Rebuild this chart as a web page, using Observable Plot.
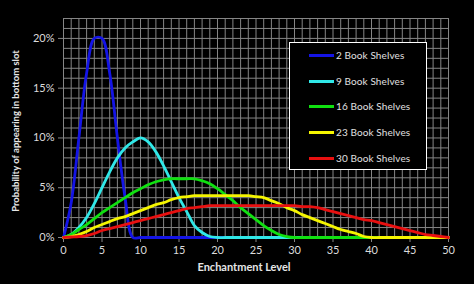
<!DOCTYPE html>
<html><head><meta charset="utf-8">
<script src="https://cdn.jsdelivr.net/npm/d3@7"></script>
<script src="https://cdn.jsdelivr.net/npm/@observablehq/plot@0.6"></script>
<style>
html,body{margin:0;padding:0;background:#000;}
#wrap{position:relative;width:474px;height:284px;overflow:hidden;font-family:Lato,"Open Sans",sans-serif;}
#legend{position:absolute;left:289px;top:42px;width:136px;height:126px;border:1.5px solid #fff;background:#000;}
.swatch{position:absolute;left:19px;width:25px;height:3px;}
.lab{position:absolute;left:46px;white-space:nowrap;color:#e0e0e0;font-size:10px;line-height:14px;letter-spacing:0.1px;}
</style></head><body><div id="wrap"></div>
<script>
const levels = [0,1,2,3,4,5,6,7,8,9,10,11,12,13,14,15,16,17,18,19,20,21,22,23,24,25,26,27,28,29,30,31,32,33,34,35,36,37,38,39,40,41,42,43,44,45,46,47,48,49,50];
const seriesNames = ["2 Book Shelves","9 Book Shelves","16 Book Shelves","23 Book Shelves","30 Book Shelves"];
const seriesColors = ["#1414e6","#30e8e8","#10e010","#f5f500","#e81010"];
const shelves2  = [0,3.5,10,16.5,20,20,16.5,10,4,0, 0,0,0,0,0,0,0,0,0,0, 0,0,0,0,0,0,0,0,0,0, 0,0,0,0,0,0,0,0,0,0, 0,0,0,0,0,0,0,0,0,0, 0];
const shelves9  = [0,0.3,1.0,2.0,3.4,5.0,6.6,8.0,9.0,9.6, 10.0,9.6,8.6,7.2,5.6,4.0,2.6,1.2,0.5,0.1, 0,0,0,0,0,0,0,0,0,0, 0,0,0,0,0,0,0,0,0,0, 0,0,0,0,0,0,0,0,0,0, 0];
const shelves16 = [0,0.3,0.8,1.3,1.9,2.5,3.0,3.5,4.0,4.5, 4.9,5.3,5.6,5.8,5.9,5.9,5.9,5.9,5.7,5.4, 4.9,4.3,3.7,3.0,2.4,1.8,1.2,0.7,0.3,0.1, 0,0,0,0,0,0,0,0,0,0, 0,0,0,0,0,0,0,0,0,0, 0];
const shelves23 = [0,0.1,0.3,0.6,1.0,1.3,1.6,1.9,2.1,2.4, 2.7,3.0,3.3,3.5,3.8,4.0,4.1,4.2,4.2,4.2, 4.2,4.2,4.2,4.2,4.2,4.1,4.0,3.7,3.4,3.0, 2.7,2.3,2.0,1.7,1.4,1.1,0.8,0.6,0.4,0.1, 0,0,0,0,0,0,0,0,0,0, 0];
const shelves30 = [0,0.05,0.1,0.2,0.4,0.7,0.9,1.1,1.3,1.5, 1.7,1.9,2.1,2.3,2.5,2.7,2.9,3.0,3.1,3.2, 3.2,3.2,3.2,3.2,3.2,3.2,3.2,3.2,3.2,3.2, 3.2,3.1,3.1,3.0,2.8,2.6,2.4,2.2,2.0,1.8, 1.7,1.5,1.3,1.1,0.9,0.7,0.5,0.3,0.2,0.1, 0];
const xTicks = [0,5,10,15,20,25,30,35,40,45,50];
const yTicks = [0,5,10,15,20];
const xGrid = levels;
const yGrid = [0,1,2,3,4,5,6,7,8,9,10,11,12,13,14,15,16,17,18,19,20,21,22];

const allValues = [shelves2, shelves9, shelves16, shelves23, shelves30];
const rows = [];
allValues.forEach((vals, s) => vals.forEach((v, i) => rows.push({level: levels[i], pct: v, series: seriesNames[s]})));

const chart = Plot.plot({
  width: 474, height: 284,
  marginLeft: 63, marginRight: 26, marginTop: 18, marginBottom: 47,
  style: {background: "#000", color: "#dcdcdc", fontFamily: "Lato, 'Open Sans', sans-serif", fontSize: "11px", overflow: "visible"},
  x: {domain: [0, 50]},
  y: {domain: [0, 22]},
  color: {domain: seriesNames, range: seriesColors},
  marks: [
    Plot.gridX(xGrid, {stroke: "#858585", strokeOpacity: 1, strokeWidth: 1}),
    Plot.gridY(yGrid, {stroke: "#858585", strokeOpacity: 1, strokeWidth: 1}),
    Plot.axisX(xTicks, {tickSize: 5, tickPadding: 4, stroke: "#858585", fill: "#dcdcdc", label: null}),
    Plot.axisY(yTicks, {tickSize: 5, tickPadding: 4, stroke: "#858585", fill: "#dcdcdc", tickFormat: d => d + "%", label: null}),
    Plot.line(rows, {x: "level", y: "pct", z: "series", stroke: "series", strokeWidth: 2.8, curve: "catmull-rom"}),
    Plot.text(["Enchantment Level"], {frameAnchor: "bottom", dy: 33, dx: -12, fontWeight: "bold", fill: "#e6e6e6", fontSize: 11}),
    Plot.text(["Probability of appearing in bottom slot"], {frameAnchor: "left", textAnchor: "middle", dx: -48, dy: 3, rotate: -90, fontWeight: "bold", fill: "#e6e6e6", fontSize: 9.5})
  ]
});
const wrap = document.getElementById("wrap");
wrap.appendChild(chart);

const legend = document.createElement("div");
legend.id = "legend";
const tops = [12, 38, 63, 89, 115];
seriesNames.forEach((name, i) => {
  const sw = document.createElement("div");
  sw.className = "swatch";
  sw.style.top = (tops[i] - 1.5) + "px";
  sw.style.background = seriesColors[i];
  const lb = document.createElement("div");
  lb.className = "lab";
  lb.style.top = (tops[i] - 7) + "px";
  lb.textContent = name;
  legend.appendChild(sw);
  legend.appendChild(lb);
});
wrap.appendChild(legend);
</script>
</body></html>
